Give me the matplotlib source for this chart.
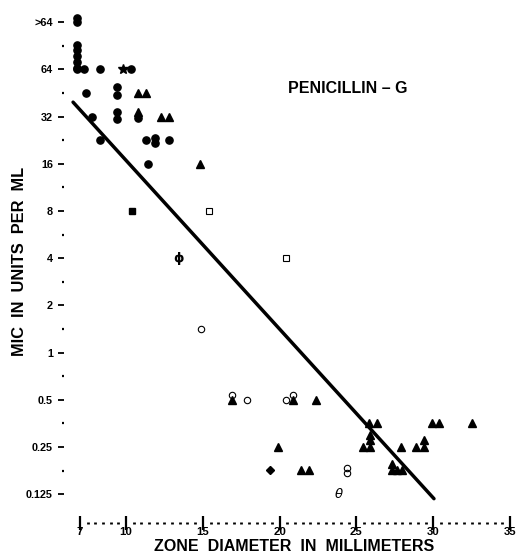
import numpy as np
import matplotlib
matplotlib.use("Agg")
import matplotlib.pyplot as plt
from matplotlib.ticker import FixedLocator, FixedFormatter

plt.rcParams['font.family'] = ['Liberation Sans', 'DejaVu Sans']
plt.rcParams['font.weight'] = 'bold'

# Zone diameter (mm) and MIC (units/ml) per organism, grouped by symbol
circle_x = [6.8, 6.8, 6.8, 6.8, 6.8, 6.8, 6.8, 6.8, 7.26, 8.3, 10.3,
            7.4, 9.4, 9.4,
            7.8, 9.4, 9.4, 10.8,
            8.3, 11.3, 11.9, 11.9, 12.8,
            11.4]
circle_mic = [128, 135, 92, 85, 78, 71, 65, 64, 64, 64, 64,
              45, 49, 44,
              32, 34, 31, 31.5,
              22.6, 22.6, 23.5, 21.8, 22.6,
              16]

triangle_x = [10.8, 11.3, 12.3, 12.8, 14.8, 10.8,
              16.9, 20.9, 22.4, 19.9, 21.4, 21.9,
              25.85, 26.35, 29.95, 30.4, 32.5,
              25.4, 25.9, 25.9, 25.9, 27.9, 28.9, 29.4, 29.4,
              27.3, 27.3, 27.65, 28.0]
triangle_mic = [45, 45, 32, 32, 16, 34,
                0.5, 0.5, 0.5, 0.25, 0.177, 0.177,
                0.354, 0.354, 0.354, 0.354, 0.354,
                0.25, 0.25, 0.275, 0.30, 0.25, 0.25, 0.25, 0.275,
                0.177, 0.195, 0.177, 0.177]

star_x, star_mic = [9.8], [64]
diamond_x, diamond_mic = [19.4], [0.177]
square_x, square_mic = [10.4], [8]
open_square_x, open_square_mic = [15.4, 20.4], [8, 4]
open_circle_x = [14.9, 17.9, 20.4, 16.9, 20.9, 24.4, 24.4]
open_circle_mic = [1.41, 0.5, 0.5, 0.54, 0.54, 0.171, 0.184]
phi_x, phi_mic = [13.4], [4]
theta_x, theta_mic = [23.85], [0.125]

# Regression line end points
line_x = [6.55, 30.05]
line_mic = [39.5, 0.117]

x_major = [7, 10, 15, 20, 25, 30, 35]
x_minor = [v for v in np.arange(7.5, 35, 0.5) if v not in x_major]
y_major = [2.0 ** k for k in range(-3, 8)]
y_labels = ['0.125', '0.25', '0.5', '1', '2', '4', '8', '16', '32', '64', '>64']
y_minor = [2.0 ** (k + 0.5) for k in range(-3, 7)]

W, H = 518, 554
fig = plt.figure(figsize=(W / 100, H / 100), dpi=100)
left_px, right_px = 64, 514.6
bottom_px, top_px = 522.5, 3.2
ax = fig.add_axes([left_px / W, (H - bottom_px) / H,
                   (right_px - left_px) / W, (bottom_px - top_px) / H])

ax.set_yscale('log', base=2)
ax.set_xlim(5.96, 35.3)
ax.set_ylim(2.0 ** -3.6, 2.0 ** 7.4)

for s in ['top', 'right', 'left', 'bottom']:
    ax.spines[s].set_visible(False)

ax.xaxis.set_major_locator(FixedLocator(x_major))
ax.xaxis.set_minor_locator(FixedLocator(x_minor))
ax.yaxis.set_major_locator(FixedLocator(y_major))
ax.yaxis.set_major_formatter(FixedFormatter(y_labels))
ax.yaxis.set_minor_locator(FixedLocator(y_minor))
ax.yaxis.set_minor_formatter(FixedFormatter([''] * len(y_minor)))

ax.tick_params(axis='x', which='major', direction='inout', length=10, width=1.6,
               labelsize=8.2, pad=-2.0)
ax.tick_params(axis='x', which='minor', direction='inout', length=2, width=2)
ax.tick_params(axis='y', which='major', direction='out', length=4, width=1.3,
               labelsize=7.8, pad=4)
ax.tick_params(axis='y', which='minor', direction='out', length=1.6, width=1.6)
for lab in ax.get_xticklabels() + ax.get_yticklabels():
    lab.set_fontweight('bold')

# Fitted line
ax.plot(line_x, line_mic, color='black', lw=2.5, solid_capstyle='round', zorder=2)

# Symbols
ax.plot(circle_x, circle_mic, 'o', color='black', ms=5.2, ls='none', zorder=3)
ax.plot(triangle_x, triangle_mic, '^', color='black', ms=6.0, ls='none', zorder=3)
ax.plot(star_x, star_mic, '*', color='black', ms=7, ls='none', zorder=3)
ax.plot(diamond_x, diamond_mic, 'D', color='black', ms=4.2, ls='none', zorder=3)
ax.plot(square_x, square_mic, 's', color='black', ms=4.6, ls='none', zorder=3)
ax.plot(open_square_x, open_square_mic, 's', mfc='white', mec='black', mew=0.8,
        ms=4.6, ls='none', zorder=3)
ax.plot(open_circle_x, open_circle_mic, 'o', mfc='none', mec='black', mew=0.8,
        ms=4.6, ls='none', zorder=4)
for x, y in zip(phi_x, phi_mic):
    ax.text(x, y, '\u03d5', ha='center', va='center', fontsize=9.5,
            fontweight='bold', family=['DejaVu Sans'], zorder=3)
for x, y in zip(theta_x, theta_mic):
    ax.text(x, y, '\u03b8', ha='center', va='center', fontsize=9.5,
            fontweight='normal', style='italic', family=['DejaVu Sans'], zorder=3)

ax.text(0.629, 0.835, 'PENICILLIN \u2013 G', transform=ax.transAxes,
        ha='center', va='center', fontsize=11.5, fontweight='bold')

ax.set_xlabel('ZONE  DIAMETER  IN  MILLIMETERS', fontsize=11.5, fontweight='bold')
ax.xaxis.set_label_coords((294 - left_px) / (right_px - left_px),
                          (bottom_px - 539) / (bottom_px - top_px))
ax.set_ylabel('MIC  IN  UNITS  PER  ML', fontsize=11.8, fontweight='bold')
ax.yaxis.set_label_coords((27 - left_px) / (right_px - left_px),
                          (bottom_px - 261) / (bottom_px - top_px))

fig.savefig('out.png', dpi=100)
